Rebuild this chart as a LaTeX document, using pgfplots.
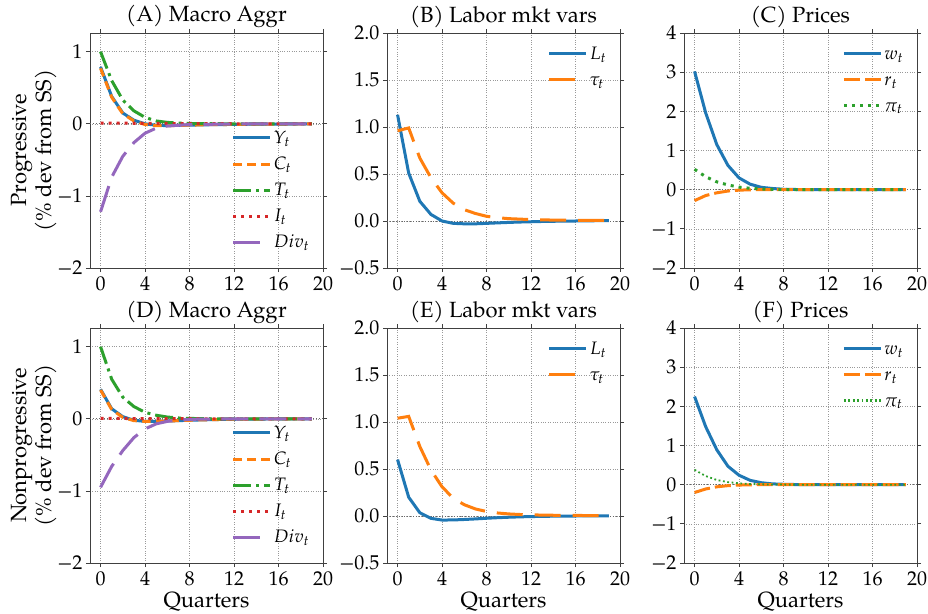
\documentclass[border=0pt]{standalone}
\usepackage{mathpazo}
\usepackage{fontspec}
\setmainfont{TeX Gyre Pagella}
\usepackage{pgfplots}
\usepackage{pgfplotstable}
\pgfplotsset{compat=1.18}
\usepgfplotslibrary{groupplots}
\definecolor{tblue}{HTML}{1F77B4}
\definecolor{torange}{HTML}{FF7F0E}
\definecolor{tgreen}{HTML}{2CA02C}
\definecolor{tred}{HTML}{D62728}
\definecolor{tpurple}{HTML}{9467BD}

\pgfplotstableread{
x Y C T I D
0 0.79 0.77 1.00 0.010 -1.22
1 0.38 0.37 0.60 0.010 -0.74
2 0.15 0.14 0.33 0.009 -0.45
3 0.05 0.04 0.18 0.008 -0.26
4 0.00 -0.01 0.09 0.007 -0.13
5 -0.02 -0.025 0.04 0.006 -0.06
6 -0.025 -0.025 0.02 0.005 -0.03
7 -0.02 -0.022 0.01 0.004 -0.02
8 -0.018 -0.018 0.005 0.003 -0.01
9 -0.015 -0.015 0.003 0.003 -0.008
10 -0.012 -0.012 0.002 0.002 -0.006
11 -0.010 -0.010 0.001 0.002 -0.004
12 -0.008 -0.008 0.0 0.001 -0.003
13 -0.006 -0.006 0.0 0.001 -0.002
14 -0.005 -0.005 0.0 0.001 -0.001
15 -0.004 -0.004 0.0 0.001 -0.001
16 -0.003 -0.003 0.0 0.0 0.0
17 -0.002 -0.002 0.0 0.0 0.0
18 -0.001 -0.001 0.0 0.0 0.0
19 0.0 0.0 0.0 0.0 0.0
}\tA
\pgfplotstableread{
x L tau
0 1.13 0.96
1 0.51 0.99
2 0.21 0.67
3 0.07 0.46
4 0.00 0.30
5 -0.025 0.19
6 -0.03 0.12
7 -0.03 0.08
8 -0.025 0.05
9 -0.02 0.035
10 -0.015 0.025
11 -0.011 0.02
12 -0.008 0.015
13 -0.005 0.012
14 -0.003 0.010
15 -0.001 0.009
16 0.0 0.008
17 0.002 0.007
18 0.003 0.006
19 0.004 0.005
}\tB
\pgfplotstableread{
x w r p
0 3.02 -0.28 0.52
1 1.96 -0.15 0.33
2 1.15 -0.08 0.20
3 0.62 -0.035 0.12
4 0.30 -0.012 0.065
5 0.14 -0.003 0.035
6 0.06 0.0 0.018
7 0.03 0.0 0.010
8 0.01 0.0 0.005
9 0.005 0.0 0.003
10 0.0 0.0 0.002
11 0.0 0.0 0.001
12 0.0 0.0 0.0
13 0.0 0.0 0.0
14 0.0 0.0 0.0
15 0.0 0.0 0.0
16 0.0 0.0 0.0
17 0.0 0.0 0.0
18 0.0 0.0 0.0
19 0.0 0.0 0.0
}\tC
\pgfplotstableread{
x Y C T I D
0 0.41 0.40 1.00 0.005 -0.95
1 0.14 0.13 0.55 0.005 -0.66
2 0.03 0.02 0.30 0.005 -0.44
3 -0.02 -0.025 0.17 0.004 -0.26
4 -0.035 -0.035 0.09 0.004 -0.14
5 -0.035 -0.035 0.05 0.003 -0.07
6 -0.03 -0.03 0.025 0.003 -0.035
7 -0.025 -0.025 0.012 0.002 -0.017
8 -0.02 -0.02 0.006 0.002 -0.008
9 -0.015 -0.015 0.003 0.001 -0.004
10 -0.011 -0.011 0.001 0.001 -0.002
11 -0.008 -0.008 0.0 0.001 -0.001
12 -0.006 -0.006 0.0 0.0 0.0
13 -0.004 -0.004 0.0 0.0 0.0
14 -0.003 -0.003 0.0 0.0 0.0
15 -0.002 -0.002 0.0 0.0 0.0
16 -0.001 -0.001 0.0 0.0 0.0
17 0.0 0.0 0.0 0.0 0.0
18 0.0 0.0 0.0 0.0 0.0
19 0.0 0.0 0.0 0.0 0.0
}\tD
\pgfplotstableread{
x L tau
0 0.60 1.04
1 0.20 1.06
2 0.035 0.74
3 -0.025 0.49
4 -0.043 0.31
5 -0.042 0.19
6 -0.037 0.12
7 -0.031 0.075
8 -0.024 0.048
9 -0.018 0.032
10 -0.013 0.022
11 -0.009 0.016
12 -0.006 0.012
13 -0.004 0.010
14 -0.002 0.008
15 -0.001 0.007
16 0.0 0.006
17 0.001 0.005
18 0.002 0.005
19 0.002 0.004
}\tE
\pgfplotstableread{
x w r p
0 2.25 -0.20 0.38
1 1.48 -0.11 0.22
2 0.89 -0.055 0.12
3 0.47 -0.025 0.065
4 0.24 -0.01 0.035
5 0.11 -0.003 0.018
6 0.05 0.0 0.009
7 0.02 0.0 0.004
8 0.01 0.0 0.002
9 0.004 0.0 0.001
10 0.0 0.0 0.0
11 0.0 0.0 0.0
12 0.0 0.0 0.0
13 0.0 0.0 0.0
14 0.0 0.0 0.0
15 0.0 0.0 0.0
16 0.0 0.0 0.0
17 0.0 0.0 0.0
18 0.0 0.0 0.0
19 0.0 0.0 0.0
}\tF

\pgfplotsset{
  base/.style={
    scale only axis, width=233pt, height=235pt,
    xmin=-0.95, xmax=20, xtick={0,4,8,12,16,20},
    xticklabels={0,4,8,12,16,20},
    grid=major, grid style={dotted, black!40, line width=0.6pt},
    axis line style={black!75, line width=0.8pt},
    tick align=outside, major tick length=4pt,
    tick style={black!75, line width=0.8pt},
    ticklabel style={font=\fontsize{20}{23}\selectfont},
    xticklabel style={yshift=-1pt},
    title style={font=\fontsize{22}{26}\selectfont, at={(0.5,1)}, anchor=base, yshift=5pt},
    label style={font=\fontsize{22}{25}\selectfont},
    xlabel style={yshift=1pt},
    ylabel style={align=center},
    ylabel shift=-6pt,
    legend style={draw=none, fill=none, font=\fontsize{18}{22}\selectfont, row sep=8pt, inner sep=0pt},
    legend cell align=left,
    legend image code/.code={\draw[line width=3pt,##1] (0pt,0pt) -- (37pt,0pt);},
  },
  lw/.style={line width=3pt},
  colA/.style={base, ymin=-2, ymax=1.26, ytick={-2,-1,0,1}, yticklabels={−2,−1,0,1},
    legend style={at={(0.95,0.07)}, anchor=south east}},
  colB/.style={base, ymin=-0.5, ymax=2, ytick={-0.5,0,0.5,1,1.5,2}, yticklabels={−0.5,0.0,0.5,1.0,1.5,2.0},
    legend style={at={(0.95,0.95)}, anchor=north east}},
  colC/.style={base, ymin=-2, ymax=4, ytick={-2,-1,0,1,2,3,4}, yticklabels={−2,−1,0,1,2,3,4},
    legend style={at={(0.95,0.95)}, anchor=north east}},
  zline/.style={black!60, dotted, line width=0.9pt, forget plot},
  sC/.style={lw, torange, dash pattern=on 8.5pt off 5.5pt},
  sT/.style={lw, tgreen, dash pattern=on 18pt off 5pt on 3pt off 5pt},
  sI/.style={lw, tred, dash pattern=on 3pt off 5pt},
  sD/.style={lw, tpurple, dash pattern=on 27pt off 11pt},
  sTau/.style={lw, torange, dash pattern=on 26pt off 12pt},
  sR/.style={lw, torange, dash pattern=on 16pt off 5pt},
}

\begin{document}
\begin{tikzpicture}
\begin{groupplot}[group style={group size=3 by 2, horizontal sep=64pt, vertical sep=60pt}]
% A
\nextgroupplot[colA, title={(A) Macro Aggr}, ylabel={Progressive\\(\% dev from SS)}]
\addplot[zline] coordinates {(-0.95,0) (20,0)};
\addplot[lw, tblue] table[x=x,y=Y] {\tA}; \addlegendentry{$Y_t$}
\addplot[sC] table[x=x,y=C] {\tA}; \addlegendentry{$C_t$}
\addplot[sT] table[x=x,y=T] {\tA}; \addlegendentry{$T_t$}
\addplot[sI] table[x=x,y=I] {\tA}; \addlegendentry{$I_t$}
\addplot[sD] table[x=x,y=D] {\tA}; \addlegendentry{$Div_t$}
% B
\nextgroupplot[colB, title={(B) Labor mkt vars}]
\addplot[zline] coordinates {(-0.95,0) (20,0)};
\addplot[lw, tblue] table[x=x,y=L] {\tB}; \addlegendentry{$L_t$}
\addplot[sTau] table[x=x,y=tau] {\tB}; \addlegendentry{$\vphantom{L}\tau_t$}
% C
\nextgroupplot[colC, title={(C) Prices}]
\addplot[zline] coordinates {(-0.95,0) (20,0)};
\addplot[lw, tblue] table[x=x,y=w] {\tC}; \addlegendentry{$\vphantom{L}w_t$}
\addplot[sR] table[x=x,y=r] {\tC}; \addlegendentry{$\vphantom{L}r_t$}
\addplot[lw, tgreen, dash pattern=on 3pt off 5pt] table[x=x,y=p] {\tC}; \addlegendentry{$\vphantom{L}\pi_t$}
% D
\nextgroupplot[colA, title={(D) Macro Aggr}, ylabel={Nonprogressive\\(\% dev from SS)}, xlabel={Quarters}]
\addplot[zline] coordinates {(-0.95,0) (20,0)};
\addplot[lw, tblue] table[x=x,y=Y] {\tD}; \addlegendentry{$Y_t$}
\addplot[sC] table[x=x,y=C] {\tD}; \addlegendentry{$C_t$}
\addplot[sT] table[x=x,y=T] {\tD}; \addlegendentry{$T_t$}
\addplot[sI] table[x=x,y=I] {\tD}; \addlegendentry{$I_t$}
\addplot[sD] table[x=x,y=D] {\tD}; \addlegendentry{$Div_t$}
% E
\nextgroupplot[colB, title={(E) Labor mkt vars}, xlabel={Quarters}]
\addplot[zline] coordinates {(-0.95,0) (20,0)};
\addplot[lw, tblue] table[x=x,y=L] {\tE}; \addlegendentry{$L_t$}
\addplot[sTau] table[x=x,y=tau] {\tE}; \addlegendentry{$\vphantom{L}\tau_t$}
% F
\nextgroupplot[colC, title={(F) Prices}, xlabel={Quarters}]
\addplot[zline] coordinates {(-0.95,0) (20,0)};
\addplot[lw, tblue] table[x=x,y=w] {\tF}; \addlegendentry{$\vphantom{L}w_t$}
\addplot[sR] table[x=x,y=r] {\tF}; \addlegendentry{$\vphantom{L}r_t$}
\addplot[tgreen, line width=1.8pt, dash pattern=on 1.8pt off 2.6pt] table[x=x,y=p] {\tF}; \addlegendentry{$\vphantom{L}\pi_t$}
\end{groupplot}
\pgfresetboundingbox
\path[use as bounding box] ([xshift=-90pt,yshift=33pt]group c1r1.north west) rectangle ([xshift=11pt,yshift=-50pt]group c3r2.south east);
\end{tikzpicture}
\end{document}
